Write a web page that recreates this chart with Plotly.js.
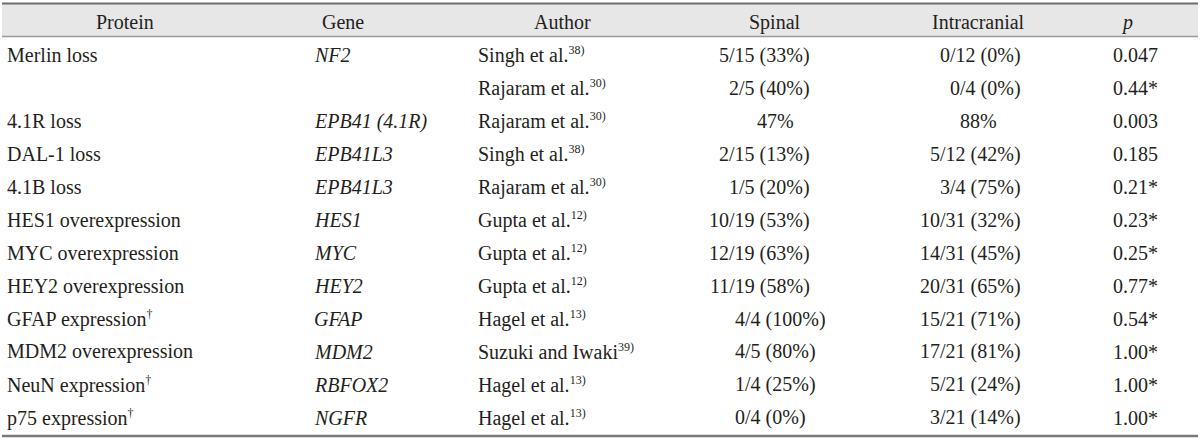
<!DOCTYPE html>
<html>
<head>
<meta charset="utf-8">
<script src="https://cdn.plot.ly/plotly-3.0.1.min.js"></script>
<style>
  html, body { margin: 0; padding: 0; background: #fff; }
  #chart { width: 1200px; height: 440px; }
</style>
</head>
<body>
<div id="chart"></div>
<script>
// Table contents, one array per column
const headers = ['Protein', 'Gene', 'Author', 'Spinal', 'Intracranial', '<i>p</i>'];

const proteins = [
    'Merlin loss', '', '4.1R loss', 'DAL-1 loss', '4.1B loss',
    'HES1 overexpression', 'MYC overexpression', 'HEY2 overexpression',
    'GFAP expression', 'MDM2 overexpression', 'NeuN expression', 'p75 expression'
];
const proteinMarks = ['', '', '', '', '', '', '', '', '†', '', '†', '†'];
const genes = [
    'NF2', '', 'EPB41 (4.1R)', 'EPB41L3', 'EPB41L3', 'HES1',
    'MYC', 'HEY2', 'GFAP', 'MDM2', 'RBFOX2', 'NGFR'
];
const authors = [
    'Singh et al.', 'Rajaram et al.', 'Rajaram et al.', 'Singh et al.',
    'Rajaram et al.', 'Gupta et al.', 'Gupta et al.', 'Gupta et al.',
    'Hagel et al.', 'Suzuki and Iwaki', 'Hagel et al.', 'Hagel et al.'
];
const refs = ['38)', '30)', '30)', '38)', '30)', '12)', '12)', '12)', '13)', '39)', '13)', '13)'];
const spinal = [
    '5/15 (33%)', '2/5 (40%)', '47%', '2/15 (13%)', '1/5 (20%)', '10/19 (53%)',
    '12/19 (63%)', '11/19 (58%)', '4/4 (100%)', '4/5 (80%)', '1/4 (25%)', '0/4 (0%)'
];
const intracranial = [
    '0/12 (0%)', '0/4 (0%)', '88%', '5/12 (42%)', '3/4 (75%)', '10/31 (32%)',
    '14/31 (45%)', '20/31 (65%)', '15/21 (71%)', '17/21 (81%)', '5/21 (24%)', '3/21 (14%)'
];
const pValues = [
    '0.047', '0.44*', '0.003', '0.185', '0.21*', '0.23*',
    '0.25*', '0.77*', '0.54*', '1.00*', '1.00*', '1.00*'
];

// column geometry (x axis runs 0..1200 like the page)
const headerX = [125, 343, 562, 775, 978, 1127];
const proteinX = 5, geneX = 312, authorX = 476, pX = 1111;
const spinalRight = 812, spinalLeft = 733, spinalMid = 775;
const intraRight = 1023, intraMid = 978;

const font = { family: 'Liberation Serif, Times New Roman, serif', size: 20, color: '#231f20' };

function sup(s) {
    return s ? '<sup><span style="font-size:12px">' + s + '</span></sup>' : '';
}

function cell(x, row, text, anchor) {
    return {
        x: x, y: row, xref: 'x', yref: 'y', text: text,
        showarrow: false, xanchor: anchor, yanchor: 'middle', font: font
    };
}

const annotations = [];
headers.forEach((h, j) => annotations.push(cell(headerX[j], -1, h, 'center')));

for (let i = 0; i < proteins.length; i++) {
    if (proteins[i]) annotations.push(cell(proteinX, i, proteins[i] + sup(proteinMarks[i]), 'left'));
    if (genes[i]) annotations.push(cell(geneX, i, '<i>' + genes[i] + '</i>', 'left'));
    annotations.push(cell(authorX, i, authors[i] + sup(refs[i]), 'left'));

    // spinal column: counts right-aligned in upper block, left-aligned in lower block
    if (spinal[i].indexOf('/') < 0) {
        annotations.push(cell(spinalMid, i, spinal[i], 'center'));
    } else if (i < 8) {
        annotations.push(cell(spinalRight, i, spinal[i], 'right'));
    } else {
        annotations.push(cell(spinalLeft, i, spinal[i], 'left'));
    }

    if (intracranial[i].indexOf('/') < 0) {
        annotations.push(cell(intraMid, i, intracranial[i], 'center'));
    } else {
        annotations.push(cell(intraRight, i, intracranial[i], 'right'));
    }

    annotations.push(cell(pX, i, pValues[i], 'left'));
}

// rows are 33px apart, first data row centred at 55px
const shapes = [
    { type: 'rect', xref: 'x', yref: 'y', x0: 2, x1: 1198, y0: -1.56, y1: -0.56,
      fillcolor: '#e7e7e7', line: { width: 0 }, layer: 'below' },
    { type: 'line', xref: 'x', yref: 'y', x0: 2, x1: 1198, y0: -1.56, y1: -1.56,
      line: { color: '#6f6f6f', width: 2 } },
    { type: 'line', xref: 'x', yref: 'y', x0: 2, x1: 1198, y0: -0.56, y1: -0.56,
      line: { color: '#9a9a9a', width: 1.5 } },
    { type: 'line', xref: 'x', yref: 'y', x0: 2, x1: 1198, y0: 11.545, y1: 11.545,
      line: { color: '#7a7a7a', width: 2.5 } }
];

const layout = {
    width: 1200,
    height: 440,
    margin: { l: 0, r: 0, t: 0, b: 0 },
    paper_bgcolor: '#ffffff',
    plot_bgcolor: '#ffffff',
    showlegend: false,
    xaxis: { range: [0, 1200], visible: false, fixedrange: true },
    yaxis: { range: [11.667, -1.667], visible: false, fixedrange: true },
    annotations: annotations,
    shapes: shapes
};

Plotly.newPlot('chart', [{ x: [], y: [], type: 'scatter', mode: 'markers' }], layout,
    { staticPlot: true, displayModeBar: false });
</script>
</body>
</html>
